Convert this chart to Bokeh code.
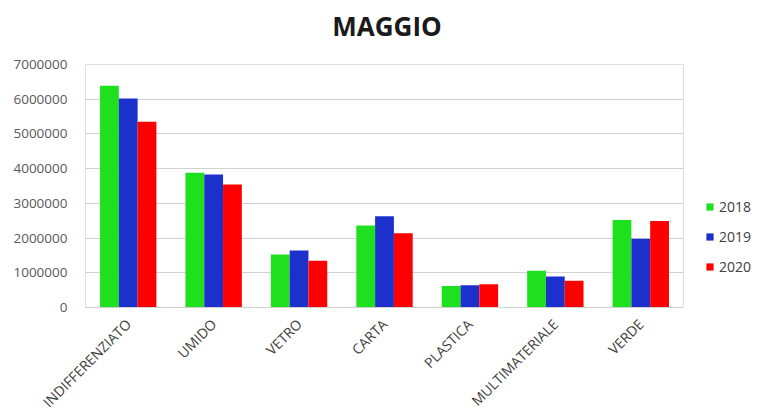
import math
from bokeh.plotting import figure
from bokeh.layouts import column
from bokeh.models import ColumnDataSource, FactorRange, FixedTicker, NumeralTickFormatter, Legend, LegendItem, Range1d, Div
from bokeh.transform import dodge
from bokeh.embed import file_html
from bokeh.resources import INLINE

chart_title = "MAGGIO"
categories = ["INDIFFERENZIATO", "UMIDO", "VETRO", "CARTA", "PLASTICA", "MULTIMATERIALE", "VERDE"]
years = ["2018", "2019", "2020"]
v2018 = [6390000, 3880000, 1530000, 2360000, 620000, 1060000, 2520000]
v2019 = [6020000, 3830000, 1640000, 2630000, 640000, 890000, 1980000]
v2020 = [5350000, 3540000, 1350000, 2140000, 670000, 770000, 2490000]
y_ticks = [0, 1000000, 2000000, 3000000, 4000000, 5000000, 6000000, 7000000]
colors = ["#1fe01f", "#1c30cc", "#ff0000"]

source = ColumnDataSource(dict(cat=categories, y2018=v2018, y2019=v2019, y2020=v2020))

title_div = Div(text=('<div style="width:759px;box-sizing:border-box;padding-left:15px;padding-top:8px;'
                      'text-align:center;font-family:\'Open Sans\';font-weight:bold;font-size:26px;'
                      'line-height:normal;color:#1a1a1a;">' + chart_title + '</div>'),
                width=759, height=46, margin=0)

p = figure(x_range=FactorRange(*categories), y_range=Range1d(0, y_ticks[-1]),
           frame_width=598, frame_height=243, output_backend="svg", toolbar_location=None,
           min_border_left=85, min_border_right=76, min_border_top=18, min_border_bottom=10,
           margin=0)

bw = 0.22
renderers = []
for i, (col, c) in enumerate(zip(["y2018", "y2019", "y2020"], colors)):
    r = p.vbar(x=dodge("cat", (i - 1) * bw, range=p.x_range), top=col, width=bw,
               source=source, fill_color=c, line_color=None)
    renderers.append(r)

legend = Legend(items=[LegendItem(label=y, renderers=[r]) for y, r in zip(years, renderers)],
                location=(22, 31), border_line_color=None, background_fill_alpha=0,
                label_text_font="Open Sans", label_text_font_size="14px", label_text_color="#404040",
                glyph_width=9, glyph_height=9, spacing=11, label_standoff=5, padding=0, margin=0)
p.add_layout(legend, "right")

p.yaxis.ticker = FixedTicker(ticks=y_ticks)
p.yaxis.formatter = NumeralTickFormatter(format="0")
p.yaxis.axis_line_color = None
p.yaxis.major_tick_line_color = None
p.yaxis.minor_tick_line_color = None
p.yaxis.major_label_text_font = "Open Sans"
p.yaxis.major_label_text_font_size = "13.5px"
p.yaxis.major_label_text_color = "#595959"
p.yaxis.major_label_standoff = 12

p.xaxis.major_label_orientation = math.pi / 4
p.xaxis.axis_line_color = "#d0d0d0"
p.xaxis.major_tick_line_color = None
p.xaxis.minor_tick_line_color = None
p.xaxis.major_label_text_font = "Open Sans"
p.xaxis.major_label_text_font_size = "14px"
p.xaxis.major_label_text_color = "#404040"
p.xaxis.major_label_standoff = 8

p.xgrid.grid_line_color = None
p.ygrid.grid_line_color = "#d0d0d0"
p.outline_line_color = "#e0e0e0"

layout = column(title_div, p, spacing=0, margin=0)

open("out.html", "w").write(file_html(layout, INLINE))
